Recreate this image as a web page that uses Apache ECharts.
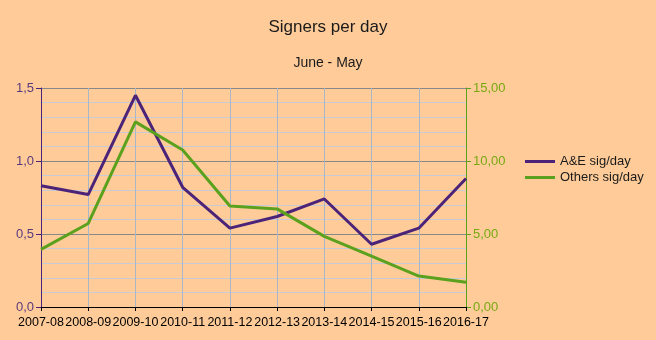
<!DOCTYPE html>
<html>
<head>
<meta charset="utf-8">
<script src="https://cdn.jsdelivr.net/npm/echarts@6/dist/echarts.min.js"></script>
<style>
html,body{margin:0;padding:0;background:#ffcc99;}
#chart{width:656px;height:340px;}
</style>
</head>
<body>
<div id="chart"></div>
<script>
// Seasons (June - May)
const seasons = ['2007-08','2008-09','2009-10','2010-11','2011-12','2012-13','2013-14','2014-15','2015-16','2016-17'];
// Signers per day, A&E (left axis)
const aeSigDay = [0.83, 0.77, 1.45, 0.82, 0.54, 0.62, 0.74, 0.43, 0.54, 0.88];
// Signers per day, all others (right axis)
const othersSigDay = [3.95, 5.72, 12.68, 10.75, 6.92, 6.72, 4.84, 3.48, 2.12, 1.70];

const purple = '#4b2479';
const green = '#5ba11d';
const font = 'Liberation Sans, Arial, sans-serif';

const chart = echarts.init(document.getElementById('chart'));
chart.setOption({
  backgroundColor: '#ffcc99',
  animation: false,
  title: {
    text: 'Signers per day',
    subtext: 'June - May',
    left: 'center',
    top: 14,
    itemGap: 20,
    textStyle: { fontFamily: font, fontSize: 17, fontWeight: 'normal', color: '#1a1a1a' },
    subtextStyle: { fontFamily: font, fontSize: 14, color: '#1a1a1a' }
  },
  legend: {
    orient: 'vertical',
    left: 520,
    top: 150,
    itemWidth: 30,
    itemHeight: 3,
    itemGap: 3,
    icon: 'rect',
    textStyle: { fontFamily: font, fontSize: 13, color: '#1a1a1a' },
    data: ['A&E sig/day', 'Others sig/day']
  },
  grid: { left: 41, right: 190, top: 88, bottom: 33 },
  xAxis: {
    type: 'category',
    data: seasons,
    boundaryGap: false,
    axisLine: { lineStyle: { color: '#000', width: 1 } },
    axisTick: { show: true, length: 4, lineStyle: { color: '#000' } },
    axisLabel: { fontFamily: font, fontSize: 12.5, color: '#000', margin: 9, interval: 0 },
    splitLine: { show: true, lineStyle: { color: '#a9b6c8', width: 1 } }
  },
  yAxis: [
    {
      type: 'value',
      min: 0, max: 1.5, interval: 0.5,
      axisLine: { show: true, lineStyle: { color: purple, width: 1 } },
      axisTick: { show: true, length: 5, lineStyle: { color: purple } },
      axisLabel: { fontFamily: font, fontSize: 13, color: '#5a3a7e', margin: 7,
        formatter: v => v.toFixed(1).replace('.', ',') },
      splitLine: { show: true, lineStyle: { color: ['#888888'], width: 1, opacity: 1 } },
      minorTick: { show: false, splitNumber: 5 },
      minorSplitLine: { show: true, lineStyle: { color: '#c6cbd6', width: 1 } }
    },
    {
      type: 'value',
      min: 0, max: 15, interval: 5,
      position: 'right',
      axisLine: { show: true, lineStyle: { color: green, width: 1 } },
      axisTick: { show: true, length: 5, lineStyle: { color: green } },
      axisLabel: { fontFamily: font, fontSize: 13, color: '#76a812', margin: 7,
        formatter: v => v.toFixed(2).replace('.', ',') },
      splitLine: { show: false }
    }
  ],
  series: [
    {
      name: 'A&E sig/day',
      type: 'line',
      yAxisIndex: 0,
      data: aeSigDay,
      showSymbol: false,
      symbol: 'none',
      lineStyle: { color: purple, width: 3 },
      itemStyle: { color: purple }
    },
    {
      name: 'Others sig/day',
      type: 'line',
      yAxisIndex: 1,
      data: othersSigDay,
      showSymbol: false,
      symbol: 'none',
      lineStyle: { color: green, width: 3 },
      itemStyle: { color: green }
    }
  ]
});
</script>
</body>
</html>
